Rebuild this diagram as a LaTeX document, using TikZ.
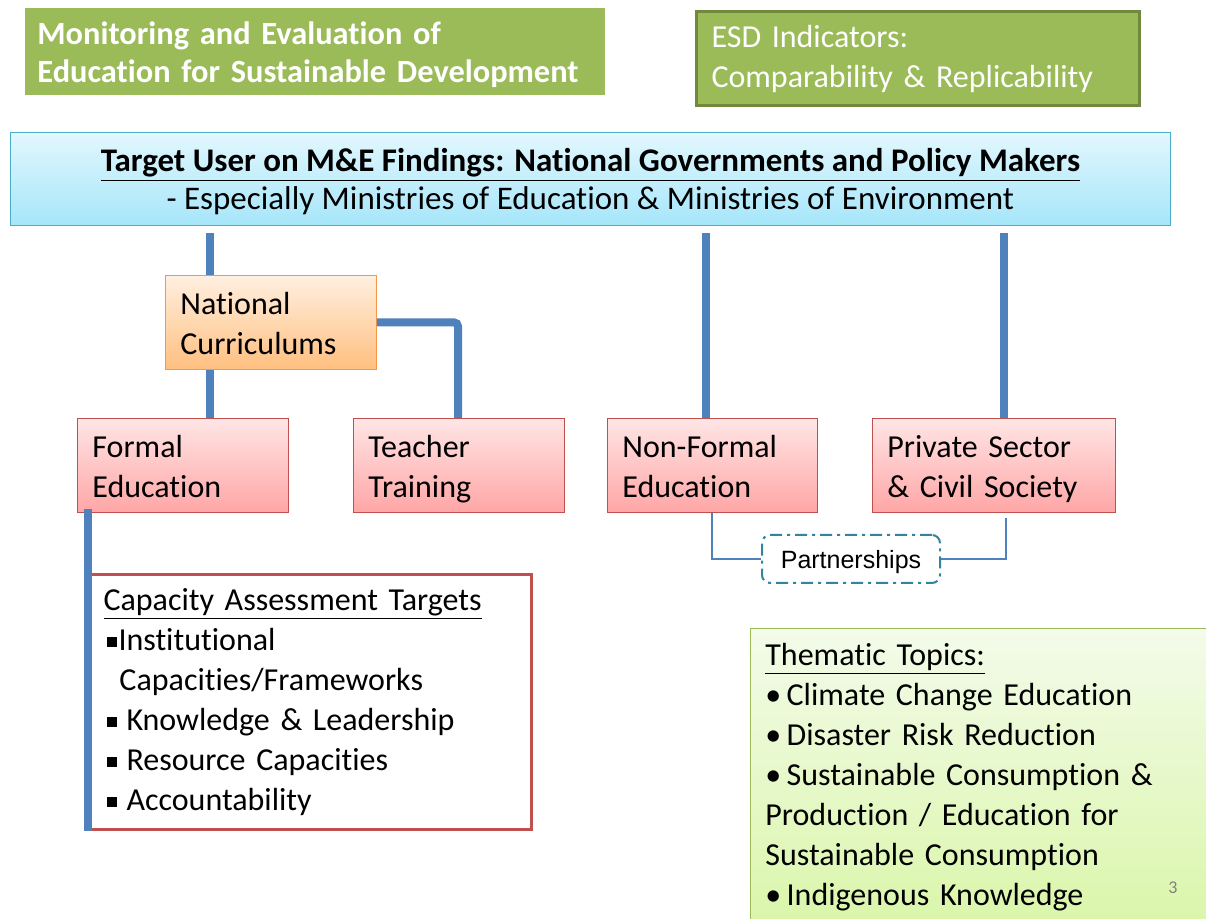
\documentclass[tikz,border=0pt]{standalone}
\usepackage{fontspec}
\setmainfont{Carlito}[Ligatures=NoCommon]
\newfontfamily\arialfont{Liberation Sans}
\usetikzlibrary{calc,positioning}
\definecolor{esdgreen}{HTML}{9BBB59}
\definecolor{esdborder}{HTML}{71893F}
\definecolor{targetline}{HTML}{4BACC6}
\definecolor{targettop}{HTML}{E2F7FD}
\definecolor{targetbottom}{HTML}{A6E6FA}
\definecolor{linkblue}{HTML}{4F81BD}
\definecolor{orangeline}{HTML}{F79646}
\definecolor{redline}{HTML}{C0504D}
\definecolor{tealline}{HTML}{31859C}
\definecolor{themetop}{HTML}{F3FBEA}
\definecolor{themebottom}{HTML}{DAF6AA}
\tikzstyle{greenbox}  = [rectangle, anchor=north west, fill=esdgreen, text=white, align=left, inner xsep=6pt]
\tikzstyle{targetbox} = [rectangle, anchor=north west, draw=targetline, top color=targettop, bottom color=targetbottom, align=flush center, inner xsep=7pt, inner ysep=0pt, minimum width=580pt, text width=566pt, minimum height=46.5pt, font=\fontsize{16.5}{19}\selectfont, execute at begin node=\rule{0pt}{17.8pt}, execute at end node=\strut]
\tikzstyle{orangebox} = [rectangle, anchor=north west, draw=orangeline, top color=orange!12, bottom color=orange!50!white, align=left, inner xsep=7.5pt, inner ysep=0pt, minimum height=47pt, font=\fontsize{16}{20}\selectfont, execute at begin node=\rule{0pt}{18.6pt}, execute at end node=\strut]
\tikzstyle{redbox}    = [rectangle, anchor=north west, draw=redline, top color=red!10, bottom color=red!35, align=left, inner xsep=7.5pt, inner ysep=0pt, minimum height=47pt, font=\fontsize{16}{20}\selectfont, execute at begin node=\rule{0pt}{18.6pt}, execute at end node=\strut]
\tikzstyle{link}      = [line width=4pt, draw=linkblue]
\tikzstyle{thinlink}  = [line width=1pt, draw=linkblue]
\newcommand{\sqbul}{\rule[0.12em]{5pt}{5pt}}

\begin{document}
\begin{tikzpicture}[x=0.5pt,y=-0.5pt]
        \clip (0,0) rectangle (1206,919);
        \fill[white] (0,0) rectangle (1206,919);

        % headings
        \node[greenbox, inner ysep=0pt, minimum width=290pt, minimum height=43.5pt, text width=278pt, font=\bfseries\fontsize{16.2}{19}\selectfont, execute at begin node=\rule{0pt}{17.8pt}, execute at end node=\strut] (title) at (25,8) {Monitoring and Evaluation of\\Education for Sustainable Development};
        \node[greenbox, draw=esdborder, line width=1.5pt, inner xsep=7.5pt, minimum width=221.5pt, minimum height=47pt, text width=206.5pt, font=\fontsize{16}{20}\selectfont] (esd) at (695,10) {ESD Indicators:\\Comparability \& Replicability};

        \node[targetbox] (target) at (10,132) {\textbf{\underline{Target User on M\&E Findings: National Governments and Policy Makers}}\\- Especially Ministries of Education \& Ministries of Environment};

        % sectors
        \node[orangebox, minimum width=105.5pt, text width=90.5pt] (nc) at (165,275) {National\\Curriculums};
        \node[redbox, minimum width=105.5pt, text width=90.5pt] (formal) at (77,418) {Formal\\Education};
        \node[redbox, minimum width=105.5pt, text width=90.5pt] (teacher) at (353,418) {Teacher\\Training};
        \node[redbox, minimum width=105pt, text width=90pt] (nonformal) at (607,418) {Non-Formal\\Education};
        \node[redbox, minimum width=121.5pt, text width=106.5pt] (private) at (872,418) {Private Sector\\\& Civil Society};

        \node[rectangle, draw=tealline, line width=1pt, rounded corners=4pt, dash pattern=on 6pt off 2.5pt on 1.5pt off 2.5pt, fill=white, minimum width=89pt, minimum height=24pt, text depth=0pt, font=\arialfont\fontsize{12.5}{15}\selectfont] (partner) at (851,559) {Partnerships};

        % boxes below
        \node[rectangle, anchor=north west, draw=redline, line width=1.5pt, fill=white, align=left, inner xsep=7pt, minimum width=221pt, minimum height=127.5pt, text width=207pt, font=\fontsize{16}{20}\selectfont] (capacity) at (88,573) {\underline{Capacity Assessment Targets}\\
            \hspace*{1.5pt}\sqbul\hspace{1pt}Institutional\\
            \hspace*{8pt}Capacities/Frameworks\\
            \hspace*{1.5pt}\sqbul\hspace{5pt}Knowledge \& Leadership\\
            \hspace*{1.5pt}\sqbul\hspace{5pt}Resource Capacities\\
            \hspace*{1.5pt}\sqbul\hspace{5pt}Accountability};

        \node[rectangle, anchor=north west, draw=esdgreen, top color=themetop, bottom color=themebottom, align=left, inner xsep=7.5pt, minimum width=235pt, minimum height=148.5pt, text width=220pt, font=\fontsize{16}{20}\selectfont] (thematic) at (750,628) {\underline{Thematic Topics:}\\
            \textbullet\,Climate Change Education\\
            \textbullet\,Disaster Risk Reduction\\
            \textbullet\,Sustainable Consumption \&\\
            Production / Education for\\
            Sustainable Consumption\\
            \textbullet\,Indigenous Knowledge};
        \node[text=gray, font=\fontsize{9}{11}\selectfont] (page) at (1173,888) {3};

        % connectors
        \coordinate (c1) at (210,0);
        \coordinate (c2) at (458,0);
        \coordinate (c3) at (706,0);
        \coordinate (c4) at (1004,0);
        \coordinate (c5) at (712,0);
        \coordinate (c6) at (1006,0);
        \draw[link, shorten <=3.5pt] (target.south -| c1) -- (nc.north -| c1);
        \draw[link] (nc.south -| c1) -- (formal.north -| c1);
        \draw[link, rounded corners=2pt] (nc.east) -| (teacher.north -| c2);
        \draw[link, shorten <=3.5pt] (target.south -| c3) -- (nonformal.north -| c3);
        \draw[link, shorten <=3.5pt] (target.south -| c4) -- (private.north -| c4);
        \draw[link, shorten <=-2pt] (formal.south -| capacity.west) -- (capacity.south west);
        \draw[thinlink] (nonformal.south -| c5) |- (partner.west);
        \draw[thinlink] (private.south -| c6) ++(0,5) |- (partner.east);
\end{tikzpicture}
\end{document}
